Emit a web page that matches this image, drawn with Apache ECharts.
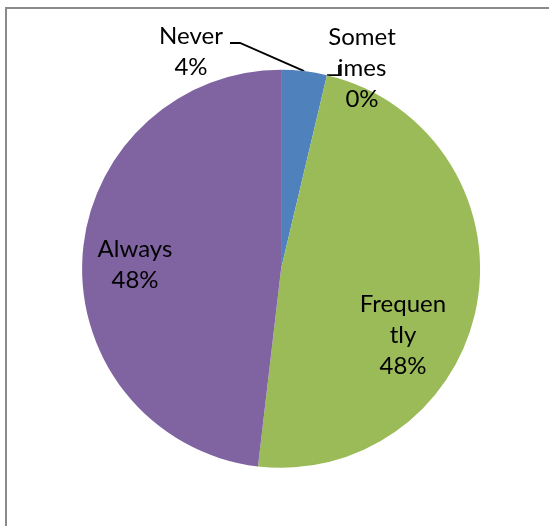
<!DOCTYPE html>
<html>
<head>
<meta charset="utf-8">
<script src="https://cdn.jsdelivr.net/npm/echarts@6/dist/echarts.min.js"></script>
<style>
  html, body { margin: 0; padding: 0; background: #fff; }
  #chart { width: 549px; height: 526px; }
</style>
</head>
<body>
<div id="chart"></div>
<script>
// Survey answers (counts of respondents per answer)
const categories = ['Never', 'Sometimes', 'Frequently', 'Always'];
const wrappedNames = ['Never', 'Somet\nimes', 'Frequen\ntly', 'Always'];
const counts = [1, 0, 13, 13];
const colors = ['#4F81BD', '#C0504D', '#9BBB59', '#8064A2'];

// Label block centres (px) and pie geometry
const labelPos = [[191, 52], [362, 68], [403, 335], [135, 265]];
const W = 549, H = 526;
const cx = W * 0.512, cy = H * 0.511, R = 199;

const total = counts.reduce((a, b) => a + b, 0);
function edgePoint(i) {
  let before = 0;
  for (let k = 0; k < i; k++) before += counts[k];
  const a = (before + counts[i] / 2) / total * Math.PI * 2;
  return [cx + R * Math.sin(a), cy - R * Math.cos(a)];
}

const chart = echarts.init(document.getElementById('chart'), null, { renderer: 'canvas' });

chart.setOption({
  animation: false,
  color: colors,
  graphic: [{
    type: 'rect',
    shape: { x: 6, y: 8, width: 700, height: 700 },
    style: { fill: 'none', stroke: '#8a8a8a', lineWidth: 2 },
    silent: true, z: -1
  }],
  series: [{
    type: 'pie',
    center: ['51.2%', '51.1%'],
    radius: R,
    startAngle: 90,
    clockwise: true,
    avoidLabelOverlap: false,
    percentPrecision: 0,
    itemStyle: { borderWidth: 0 },
    label: {
      show: true,
      position: 'outside',
      formatter: p => wrappedNames[p.dataIndex] + '\n' + p.percent + '%',
      fontFamily: 'Lato',
      fontSize: 24,
      lineHeight: 31,
      color: '#000',
      align: 'center'
    },
    labelLine: {
      show: true,
      lineStyle: { color: '#000', width: 1.8 }
    },
    labelLayout: function (params) {
      const i = params.dataIndex;
      const out = {
        x: labelPos[i][0],
        y: labelPos[i][1],
        align: 'center',
        verticalAlign: 'middle'
      };
      const e = edgePoint(i);
      if (i === 0) {
        out.labelLinePoints = [e, [240, 43], [230, 43]];
      } else if (i === 1) {
        out.labelLinePoints = [e, [339, e[1]], [339, 65]];
      }
      return out;
    },
    data: categories.map((name, i) => ({
      name: name,
      value: counts[i],
      labelLine: { show: i < 2 }
    }))
  }]
});
</script>
</body>
</html>
